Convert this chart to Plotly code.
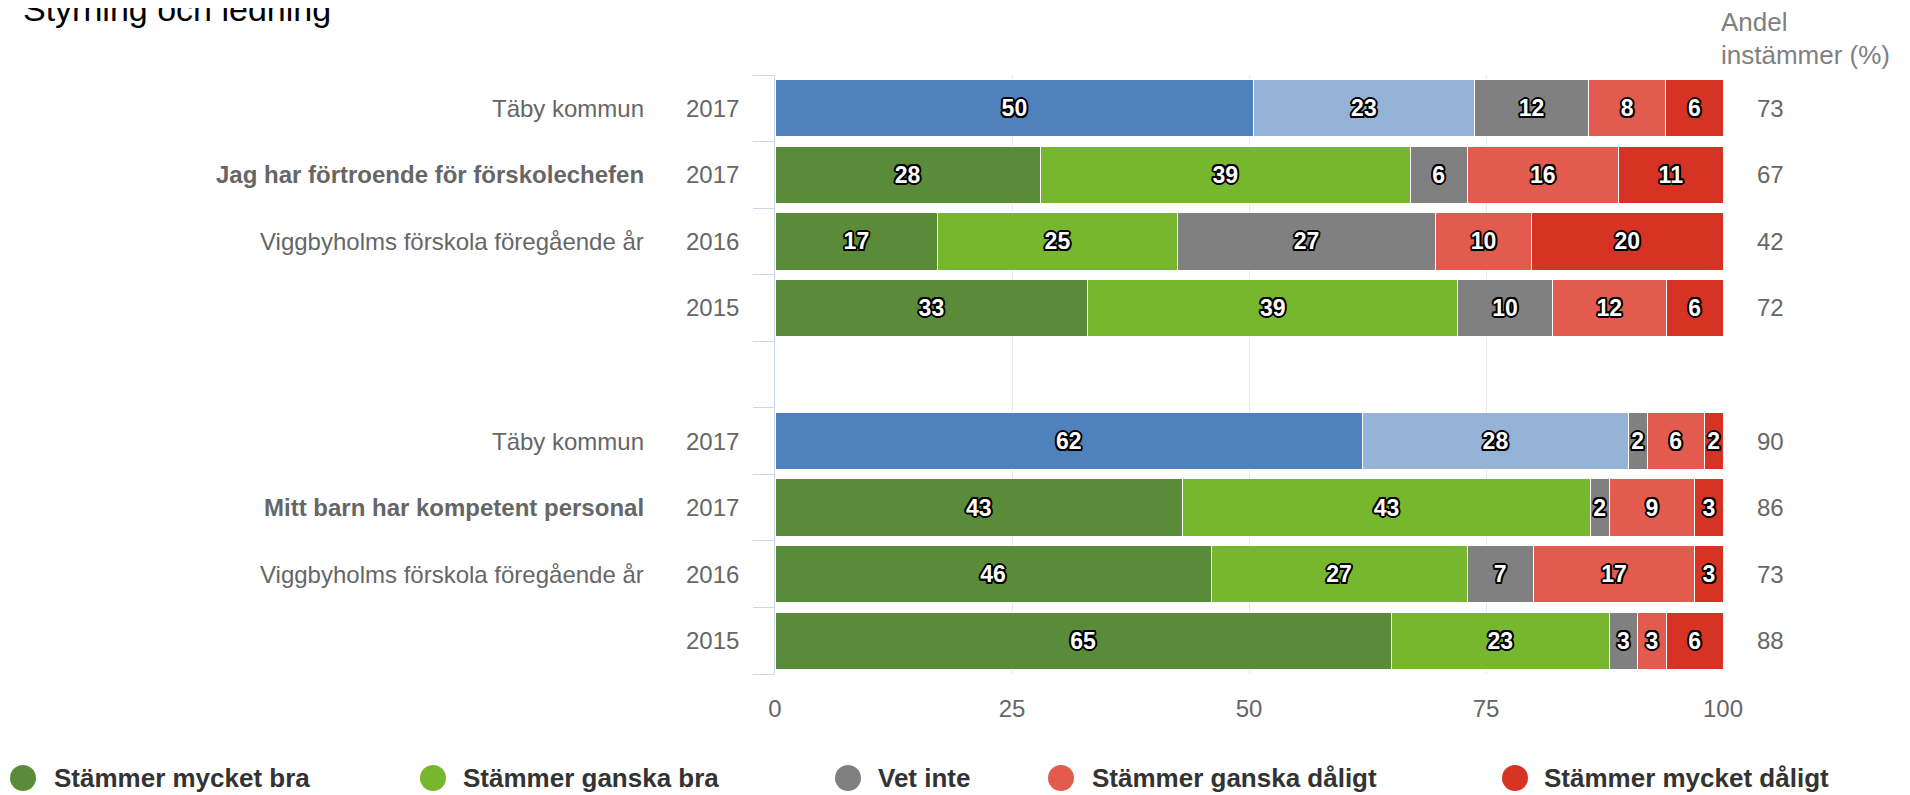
import plotly.graph_objects as go

# ---------------- data ----------------
row_pos = [0, 1, 2, 3, 5, 6, 7, 8]
row_names = ["Täby kommun", "Jag har förtroende för förskolechefen",
             "Viggbyholms förskola föregående år", "",
             "Täby kommun", "Mitt barn har kompetent personal",
             "Viggbyholms förskola föregående år", ""]
row_years = ["2017", "2017", "2016", "2015", "2017", "2017", "2016", "2015"]
question_rows = [1, 5]          # rows whose label is bold
benchmark_rows = [0, 4]         # Täby kommun rows -> blue palette

series_names = ["Stämmer mycket bra", "Stämmer ganska bra", "Vet inte",
                "Stämmer ganska dåligt", "Stämmer mycket dåligt"]
mycket_bra = [50, 28, 17, 33, 62, 43, 46, 65]
ganska_bra = [23, 39, 25, 39, 28, 43, 27, 23]
vet_inte = [12, 6, 27, 10, 2, 2, 7, 3]
ganska_daligt = [8, 16, 10, 12, 6, 9, 17, 3]
mycket_daligt = [6, 11, 20, 6, 2, 3, 3, 6]
andel_instammer = [73, 67, 42, 72, 90, 86, 73, 88]

x_ticks = [0, 25, 50, 75, 100]

# ---------------- style ----------------
series_colors = ["#5a8b39", "#77b72e", "#808080", "#e35b4f", "#d73325"]
bench_colors = ["#4f81bd", "#95b3d7"]
FONT = "Liberation Sans, Arial, sans-serif"

OFF = 8                      # default page body margin
W, H = 1910 - OFF, 795 - OFF
# plot area in page pixels: x 775..1723, y 75..674
L, R, T, B = 775 - OFF, W - (1723 - OFF), 75 - OFF, H - (674 - OFF)
PW = W - L - R
PH = H - T - B


def px_x(p):   # page pixel -> paper
    return (p - OFF - L) / PW


def px_y(p):
    return 1 - (p - OFF - T) / PH


series_values = [mycket_bra, ganska_bra, vet_inte, ganska_daligt, mycket_daligt]
shadow = ", ".join(f"{dx}px {dy}px 0 #000" for dx, dy in
                   [(-1.5, -1.5), (1.5, -1.5), (-1.5, 1.5), (1.5, 1.5),
                    (0, 2), (0, -2), (2, 0), (-2, 0)])

fig = go.Figure()
for si, (name, vals) in enumerate(zip(series_names, series_values)):
    colors = []
    for ri in range(len(vals)):
        if si < 2 and ri in benchmark_rows:
            colors.append(bench_colors[si])
        else:
            colors.append(series_colors[si])
    fig.add_trace(go.Bar(
        name=name, x=vals, y=row_pos, orientation="h",
        marker=dict(color=colors, line=dict(color="white", width=1)),
        text=[str(v) for v in vals], textposition="inside",
        insidetextanchor="middle", textangle=0, constraintext="none",
        textfont=dict(family=FONT, size=23, color="white", weight="bold",
                      shadow=shadow),
        cliponaxis=False, showlegend=False,
        hovertemplate=name + ": %{text}<extra></extra>",
    ))

annotations = []
for ri, (pos, nm, yr) in enumerate(zip(row_pos, row_names, row_years)):
    if nm:
        annotations.append(dict(
            x=px_x(646), xref="paper", y=pos, yref="y", text=nm,
            xanchor="right", yanchor="middle", showarrow=False,
            font=dict(family=FONT, size=24, color="#666666",
                      weight="bold" if ri in question_rows else "normal")))
    annotations.append(dict(
        x=px_x(741), xref="paper", y=pos, yref="y", text=yr,
        xanchor="right", yanchor="middle", showarrow=False,
        font=dict(family=FONT, size=24, color="#666666")))
    annotations.append(dict(
        x=px_x(1770), xref="paper", y=pos, yref="y", text=str(andel_instammer[ri]),
        xanchor="center", yanchor="middle", showarrow=False,
        font=dict(family=FONT, size=24, color="#666666")))

annotations.append(dict(x=px_x(1719), xref="paper", y=px_y(22), yref="paper",
                        text="Andel", xanchor="left", yanchor="middle", showarrow=False,
                        font=dict(family=FONT, size=26, color="#808080")))
annotations.append(dict(x=px_x(1719), xref="paper", y=px_y(55), yref="paper",
                        text="instämmer (%)", xanchor="left", yanchor="middle", showarrow=False,
                        font=dict(family=FONT, size=26, color="#808080")))
annotations.append(dict(x=px_x(21), xref="paper", y=px_y(9), yref="paper",
                        text="Styrning och ledning", xanchor="left", yanchor="middle",
                        showarrow=False, font=dict(family=FONT, size=34, color="#000000")))

legend_circle_x = [23, 433, 848, 1061, 1515]
legend_text_x = [52, 461, 876, 1090, 1542]
legend_y = 778
shapes = []
for i, name in enumerate(series_names):
    shapes.append(dict(type="circle", xref="paper", yref="paper",
                       xsizemode="pixel", ysizemode="pixel",
                       xanchor=px_x(legend_circle_x[i]), yanchor=px_y(legend_y),
                       x0=-13, x1=13, y0=-13, y1=13,
                       fillcolor=series_colors[i], line=dict(width=0)))
    annotations.append(dict(x=px_x(legend_text_x[i]), xref="paper", y=px_y(legend_y),
                            yref="paper", text=name, xanchor="left", yanchor="middle",
                            showarrow=False,
                            font=dict(family=FONT, size=26, color="#333333", weight="bold")))

fig.update_layout(
    width=W, height=H,
    margin=dict(l=L, r=R, t=T, b=B, pad=0),
    barmode="stack", barnorm="percent", bargap=0.14,
    plot_bgcolor="white", paper_bgcolor="white",
    font=dict(family=FONT),
    annotations=annotations, shapes=shapes,
    showlegend=False,
    xaxis=dict(range=[0, 100.0001], tickvals=x_ticks, ticktext=[str(v) for v in x_ticks],
               showgrid=True, gridcolor="#e6e6e6", gridwidth=1, zeroline=False,
               showline=False, ticks="", ticklabelstandoff=18,
               tickfont=dict(family=FONT, size=24, color="#666666"), fixedrange=True),
    yaxis=dict(range=[8.5, -0.5], tickvals=[i - 0.5 for i in range(10)],
               ticktext=[""] * 10, showticklabels=False, ticks="outside", ticklen=21,
               tickcolor="#ccd6eb", tickwidth=1, showline=True, linecolor="#ccd6eb",
               linewidth=1, showgrid=False, zeroline=False, fixedrange=True),
)

fig.write_html("out.html")
